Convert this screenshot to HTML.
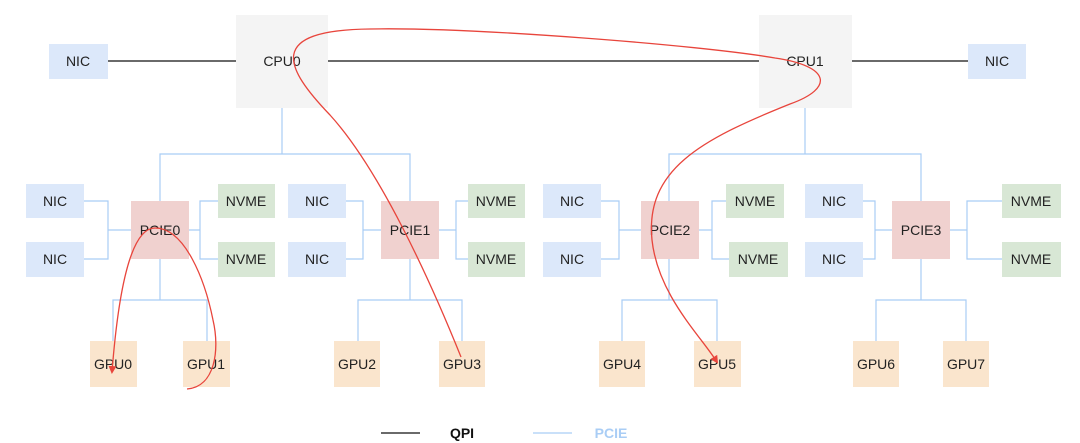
<!DOCTYPE html>
<html><head><meta charset="utf-8"><style>
body{margin:0;background:#fff;}
svg{display:block;font-family:"Liberation Sans",Arial,sans-serif;}
text{font-size:14px;fill:#222;text-anchor:middle;dominant-baseline:central;}
</style></head><body>
<svg width="1080" height="443" viewBox="0 0 1080 443" xmlns="http://www.w3.org/2000/svg">
<defs>
<marker id="ah" markerWidth="8" markerHeight="8" refX="6" refY="4" orient="auto" markerUnits="userSpaceOnUse">
<path d="M0,0 L8,4 L0,8 Z" fill="#e8453c"/></marker>
</defs>
<rect width="1080" height="443" fill="#fff"/>
<g stroke="#111" stroke-width="1.2">
<line x1="108" y1="61" x2="236" y2="61"/>
<line x1="328" y1="61" x2="759" y2="61"/>
<line x1="852" y1="61" x2="968" y2="61"/>
<line x1="381" y1="433" x2="420" y2="433"/>
</g>
<g stroke="#a9cdf5" stroke-width="1.2" fill="none">
<path d="M282,108 V154 M160,201 V154 H410 V201"/>
<path d="M805,108 V154 M669,201 V154 H921 V201"/>
<path d="M84,201 H108 V259 H84 M108,230 H131"/>
<path d="M218,201 H200 V259 H218 M200,230 H189"/>
<path d="M160,259 V300 M113,341 V300 H207 V341"/>
<path d="M346,201 H363 V259 H346 M363,230 H381"/>
<path d="M468,201 H456 V259 H468 M456,230 H439"/>
<path d="M410,259 V300 M358,341 V300 H462 V341"/>
<path d="M601,201 H619 V259 H601 M619,230 H641"/>
<path d="M726,201 H712 V259 H729 M712,230 H699"/>
<path d="M669,259 V300 M622,341 V300 H717 V341"/>
<path d="M863,201 H875 V259 H863 M875,230 H892"/>
<path d="M1002,201 H967 V259 H1002 M967,230 H950"/>
<path d="M921,259 V300 M876,341 V300 H966 V341"/>
<line x1="533" y1="433" x2="572" y2="433"/>
</g>
<rect x="236" y="15" width="92" height="93" fill="#f4f4f4"/><text x="282" y="61">CPU0</text>
<rect x="759" y="15" width="93" height="93" fill="#f4f4f4"/><text x="805" y="61">CPU1</text>
<g fill="#dce8fa">
<rect x="49" y="44" width="59" height="35"/>
<rect x="968" y="44" width="58" height="35"/>
<rect x="26" y="184" width="58" height="34"/><rect x="26" y="242" width="58" height="35"/>
<rect x="288" y="184" width="58" height="34"/><rect x="288" y="242" width="58" height="35"/>
<rect x="543" y="184" width="58" height="34"/><rect x="543" y="242" width="58" height="35"/>
<rect x="805" y="184" width="58" height="34"/><rect x="805" y="242" width="58" height="35"/>
</g>
<g fill="#d8e7d5">
<rect x="218" y="184" width="57" height="34"/><rect x="218" y="242" width="57" height="35"/>
<rect x="468" y="184" width="57" height="34"/><rect x="468" y="242" width="57" height="35"/>
<rect x="726" y="184" width="58" height="34"/><rect x="729" y="242" width="59" height="35"/>
<rect x="1002" y="184" width="59" height="34"/><rect x="1002" y="242" width="59" height="35"/>
</g>
<g fill="#f0d1cf">
<rect x="131" y="201" width="58" height="58"/><rect x="381" y="201" width="58" height="58"/>
<rect x="641" y="201" width="58" height="58"/><rect x="892" y="201" width="58" height="58"/>
</g>
<g fill="#fae5cd">
<rect x="90" y="341" width="47" height="46"/><rect x="183" y="341" width="47" height="46"/>
<rect x="334" y="341" width="46" height="46"/><rect x="439" y="341" width="46" height="46"/>
<rect x="599" y="341" width="46" height="46"/><rect x="694" y="341" width="47" height="46"/>
<rect x="853" y="341" width="46" height="46"/><rect x="943" y="341" width="46" height="46"/>
</g>
<text x="78" y="61">NIC</text><text x="997" y="61">NIC</text>
<text x="55" y="201">NIC</text><text x="55" y="259">NIC</text>
<text x="317" y="201">NIC</text><text x="317" y="259">NIC</text>
<text x="572" y="201">NIC</text><text x="572" y="259">NIC</text>
<text x="834" y="201">NIC</text><text x="834" y="259">NIC</text>
<text x="246" y="201">NVME</text><text x="246" y="259">NVME</text>
<text x="496" y="201">NVME</text><text x="496" y="259">NVME</text>
<text x="755" y="201">NVME</text><text x="758" y="259">NVME</text>
<text x="1031" y="201">NVME</text><text x="1031" y="259">NVME</text>
<text x="160" y="230">PCIE0</text><text x="410" y="230">PCIE1</text>
<text x="670" y="230">PCIE2</text><text x="921" y="230">PCIE3</text>
<text x="113" y="364">GPU0</text><text x="206" y="364">GPU1</text>
<text x="357" y="364">GPU2</text><text x="462" y="364">GPU3</text>
<text x="622" y="364">GPU4</text><text x="717" y="364">GPU5</text>
<text x="876" y="364">GPU6</text><text x="966" y="364">GPU7</text>
<text x="462" y="433" style="font-weight:bold;fill:#111">QPI</text>
<text x="611" y="433" style="font-weight:bold;fill:#a9cdf5">PCIE</text>
<g stroke="#e8453c" stroke-width="1.3" fill="none">
<path d="M187,389 C215,387 220,350 213,320 C205,280 185,228 155,228 C135,228 120,270 112,372" marker-end="url(#ah)"/>
<path d="M461,357 C430,280 380,170 330,115 C285,68 265,30 370,29 C470,27 700,45 775,58 C830,66 835,88 790,104 C700,140 645,170 652,240 C658,295 700,335 717,362" marker-end="url(#ah)"/>
</g>
</svg>
</body></html>
